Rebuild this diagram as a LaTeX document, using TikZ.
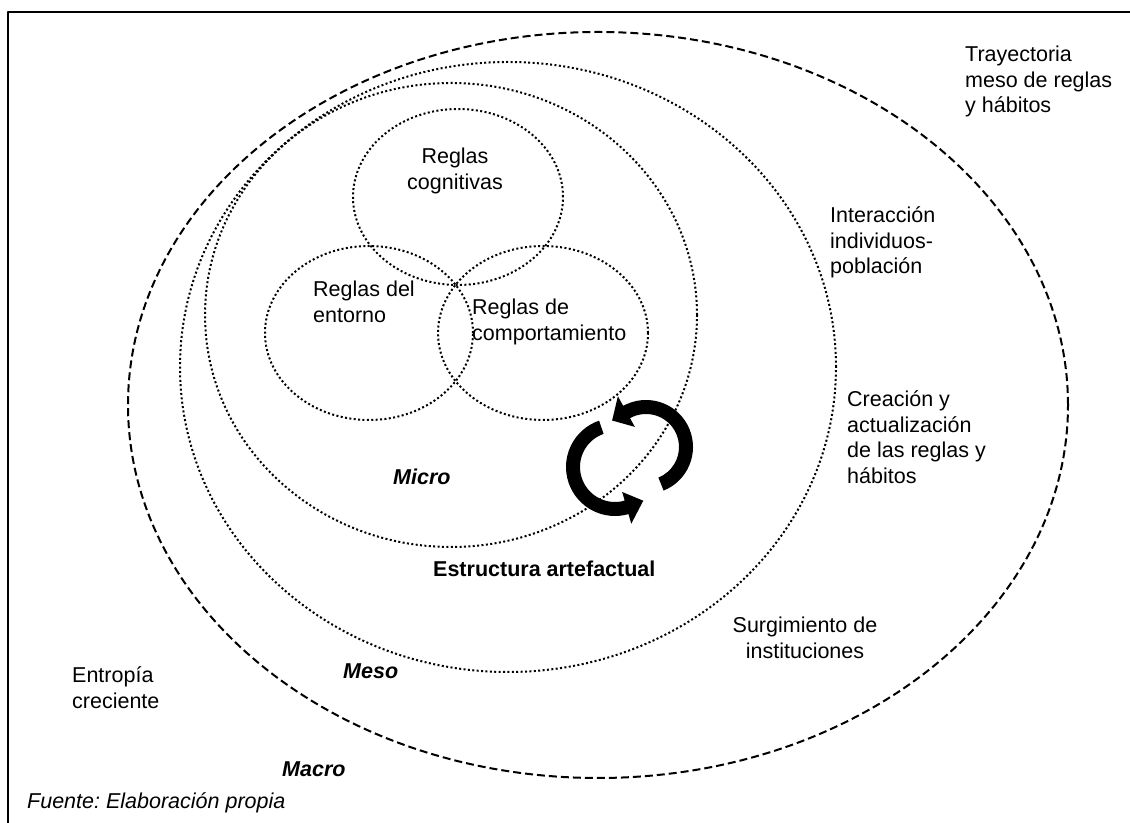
\documentclass[tikz,border=0pt]{standalone}
\usepackage{fontspec}
\setmainfont{Liberation Sans}
\frenchspacing

\tikzset{
  txt/.style={inner sep=0pt, align=left, anchor=base west,
    font=\fontsize{21.5bp}{25.5bp}\selectfont},
  lvl/.style={txt, font=\fontsize{21.5bp}{25.5bp}\selectfont\bfseries\itshape},
  dashring/.style={dash pattern=on 8bp off 4bp, line width=2bp},
  dotring/.style={dash pattern=on 2bp off 2.4bp, line width=2bp},
}

\begin{document}
\begin{tikzpicture}[line join=bevel]
  \useasboundingbox (0bp,0bp) rectangle (1130bp,823bp);
  % frame
  \draw [line width=1.5bp] (8bp,0bp) -- (8bp,811bp) -- (1130bp,811bp);
%%
  % Node: macro
  \draw [dashring] (598bp,418bp) ellipse [x radius=470bp, y radius=373bp];
  % Node: meso
  \draw [dotring] (508bp,456bp) ellipse [x radius=328bp, y radius=305bp];
  % Node: micro
  \draw [dotring] (451bp,508bp) ellipse [x radius=246bp, y radius=232bp];
  % Node: cognitivas
  \draw [dotring] (458bp,626bp) ellipse [x radius=105bp, y radius=88bp];
  % Node: entorno
  \draw [dotring] (369bp,490bp) ellipse [x radius=104bp, y radius=87bp];
  % Node: comportamiento
  \draw [dotring] (543bp,490bp) ellipse [x radius=105bp, y radius=87bp];
%%
  % Edge: upper arrow (right side, head to the left)
\begin{scope}[shift={(646bp,376bp)}]
  \fill (-68:47bp) arc [start angle=-68, end angle=119, radius=47bp]
    -- (119:58bp) -- (142:43bp) -- (119:23bp) -- (119:33bp)
    arc [start angle=119, end angle=-68, radius=33bp] -- cycle;
\end{scope}
  % Edge: lower arrow (left side, head to the right)
\begin{scope}[shift={(615bp,356bp)}]
  \fill (109:49bp) arc [start angle=109, end angle=286, radius=49bp]
    -- (286:59bp) -- (310:44bp) -- (286:26bp) -- (286:35bp)
    arc [start angle=286, end angle=109, radius=35bp] -- cycle;
\end{scope}
%%
  % labels (base = last line)
  \node [txt] (tray) at (965bp,710bp) {Trayectoria\\meso de reglas\\y hábitos};
  \node [txt] (inter) at (830bp,549bp) {Interacción\\individuos-\\población};
  \node [txt] (creac) at (847bp,339.5bp) {Creación y\\actualización\\de las reglas y\\hábitos};
  \node [txt, align=center, anchor=base] (surg) at (805bp,164.5bp) {Surgimiento de\\instituciones};
  \node [txt] (entropia) at (72bp,114.5bp) {Entropía\\creciente};
  \node [txt, align=center, anchor=base] (rcog) at (455bp,633.5bp) {Reglas\\cognitivas};
  \node [txt] (rent) at (313bp,500.5bp) {Reglas del\\entorno};
  \node [txt] (rcomp) at (472bp,482.5bp) {Reglas de\\comportamiento};
  \node [lvl] (lmicro) at (393bp,338bp) {Micro};
  \node [lvl] (lmeso) at (343bp,144bp) {Meso};
  \node [lvl] (lmacro) at (282bp,46bp) {Macro};
  \node [txt, font=\fontsize{21.5bp}{25.5bp}\selectfont\bfseries] (estr) at (433bp,246bp) {Estructura artefactual};
  \node [txt, font=\fontsize{21.5bp}{25.5bp}\selectfont\itshape] (fuente) at (27bp,15bp) {Fuente: Elaboración propia};
%
\end{tikzpicture}
\end{document}
